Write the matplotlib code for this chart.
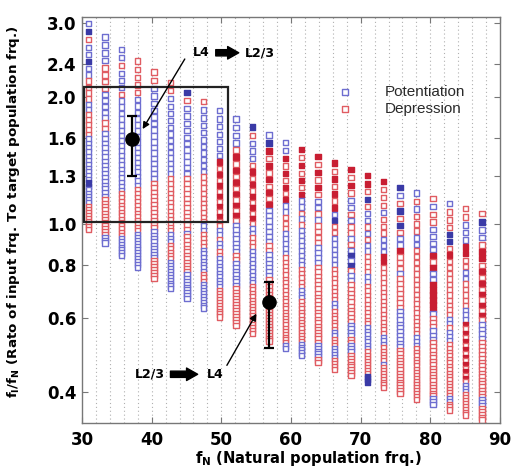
import numpy as np
import matplotlib
matplotlib.use('Agg')
import matplotlib.pyplot as plt
from matplotlib.patches import Rectangle, FancyArrowPatch

plt.rcParams['mathtext.fontset'] = 'dejavusans'

# natural population frequencies (columns), Hz
f_N = [30.94, 33.29, 35.65, 38.00, 40.36, 42.71, 45.06, 47.42, 49.77, 52.13,
       54.48, 56.83, 59.19, 61.54, 63.90, 66.25, 68.60, 70.96, 73.31, 75.67,
       78.02, 80.37, 82.73, 85.08, 87.44]

# input periods tested (ms)
period_ms = [10.8, 11.3, 11.8, 12.3, 12.8, 13.3, 13.8, 14.3, 14.8, 15.3,
             15.8, 16.3, 16.8, 17.3, 17.8, 18.3, 18.8, 19.3, 19.8, 20.3,
             20.8, 21.3, 21.8, 22.3, 22.8, 23.3, 23.8, 24.3, 24.8, 25.3,
             25.8, 26.3, 26.8, 27.3, 27.8, 28.3, 28.8, 29.3, 29.8, 30.3,
             30.8, 31.3, 31.8, 32.3, 32.8, 33.3]

# outcome per column, top to bottom: (code, lower ratio bound)
# p = potentiation, P = strong potentiation, d = depression, D = strong depression
outcomes = [
    [('p', 2.9), ('P', 2.84), ('d', 2.70), ('p', 2.45), ('P', 2.40), ('p', 2.25), ('d', 1.97),
     ('p', 1.83), ('d', 1.60), ('p', 1.27), ('P', 1.22), ('p', 1.12), ('d', 0)],
    [('p', 2.40), ('d', 2.10), ('p', 1.78), ('d', 1.68), ('p', 1.16), ('d', 0.94), ('p', 0)],
    [('p', 2.45), ('d', 2.30), ('p', 2.05), ('d', 1.97), ('p', 1.20), ('d', 0.93), ('p', 0)],
    [('d', 2.0), ('p', 1.22), ('d', 0.95), ('p', 0)],
    [('d', 2.17), ('p', 1.26), ('d', 0.97), ('p', 0.83), ('d', 0)],
    [('d', 2.05), ('p', 1.28), ('d', 0.95), ('p', 0.90), ('d', 0.82), ('p', 0)],
    [('P', 2.03), ('d', 1.93), ('p', 1.32), ('d', 0.97), ('p', 0.94), ('d', 0.77), ('p', 0)],
    [('d', 1.93), ('p', 1.32), ('d', 1.0), ('p', 0.95), ('d', 0.87), ('p', 0.76), ('d', 0.72), ('p', 0)],
    [('p', 1.45), ('Dd', 1.03), ('d', 0.98), ('p', 0.94), ('d', 0.91), ('p', 0.87), ('d', 0.84),
     ('p', 0.70), ('d', 0)],
    [('p', 1.55), ('dD', 1.0), ('p', 0.86), ('d', 0.81), ('p', 0.71), ('d', 0)],
    [('P', 1.69), ('d', 1.62), ('p', 1.48), ('d', 1.44), ('p', 1.40), ('dD', 0.99), ('p', 0.93),
     ('d', 0.88), ('p', 0.72), ('d', 0)],
    [('p', 1.60), ('P', 1.55), ('Dd', 1.09), ('p', 0.90), ('d', 0.86), ('p', 0.74), ('d', 0)],
    [('p', 1.48), ('Dd', 1.12), ('p', 1.06), ('d', 0.97), ('p', 0.85), ('d', 0.52), ('p', 0)],
    [('Dd', 1.15), ('p', 1.07), ('d', 1.04), ('p', 1.01), ('d', 0.97), ('p', 0.80), ('d', 0.70),
     ('p', 0.66), ('d', 0.52), ('p', 0)],
    [('Dd', 1.14), ('p', 1.06), ('d', 1.03), ('p', 1.0), ('d', 0.90), ('p', 0.80), ('d', 0.52),
     ('p', 0.48), ('d', 0)],
    [('Dd', 1.09), ('p', 1.02), ('P', 1.0), ('d', 0.95), ('p', 0.80), ('P', 0.79), ('d', 0.65),
     ('p', 0.63), ('d', 0.56), ('p', 0.54), ('d', 0.51), ('p', 0.48), ('d', 0)],
    [('Dd', 1.17), ('p', 1.08), ('d', 1.04), ('p', 1.01), ('d', 0.94), ('p', 0.91), ('d', 0.88),
     ('pP', 0.79), ('d', 0.76), ('p', 0.73), ('d', 0.58), ('p', 0.54), ('d', 0.52), ('p', 0.49), ('d', 0)],
    [('D', 1.22), ('d', 1.18), ('P', 1.13), ('d', 1.08), ('p', 1.01), ('d', 0.97), ('p', 0.94),
     ('d', 0.9), ('p', 0.84), ('d', 0.75), ('p', 0.72), ('d', 0.57), ('p', 0.5), ('d', 0.44), ('P', 0)],
    [('D', 1.25), ('d', 1.09), ('p', 1.05), ('d', 0.94), ('p', 0.84), ('D', 0.79), ('d', 0.55),
     ('p', 0.51), ('d', 0.47), ('p', 0.46), ('d', 0)],
    [('P', 1.2), ('p', 1.15), ('d', 1.10), ('P', 1.06), ('d', 1.02), ('P', 0.98), ('d', 0.94),
     ('p', 0.88), ('D', 0.84), ('d', 0.78), ('p', 0.76), ('d', 0.63), ('p', 0.51), ('d', 0)],
    [('p', 1.16), ('d', 1.12), ('p', 1.08), ('d', 0.93), ('p', 0.88), ('d', 0.55), ('p', 0.51), ('d', 0)],
    [('d', 1.13), ('p', 1.08), ('d', 1.0), ('p', 0.87), ('Dd', 0.77), ('p', 0.74), ('D', 0.62),
     ('p', 0.6), ('d', 0.57), ('p', 0.53), ('d', 0.39), ('p', 0)],
    [('p', 1.10), ('d', 1.02), ('p', 0.99), ('d', 0.95), ('P', 0.88), ('d', 0.85), ('D', 0.82),
     ('d', 0.61), ('p', 0.57), ('d', 0.56), ('p', 0.53), ('d', 0.39), ('p', 0.375), ('d', 0)],
    [('d', 1.03), ('P', 1.0), ('p', 0.89), ('D', 0.85), ('d', 0.77), ('p', 0.73), ('d', 0.64),
     ('p', 0.59), ('Dd', 0.42), ('p', 0.40), ('d', 0)],
    [('d', 1.04), ('P', 1.0), ('p', 0.92), ('d', 0.87), ('D', 0.85), ('Dd', 0.58), ('p', 0.53),
     ('d', 0.39), ('p', 0.37), ('d', 0)],
]

# error bars (mean ratio, lower/upper deviation)
eb_x = [37.2, 56.8]
eb_y = [1.59, 0.654]
eb_lo = [0.29, 0.144]
eb_hi = [0.22, 0.074]

x_ticks = [30, 40, 50, 60, 70, 80, 90]
y_ticks = [0.4, 0.6, 0.8, 1.0, 1.3, 1.6, 2.0, 2.4, 3.0]

style = {
    'p': ('white', '#6e6ed0'),
    'P': ('#3a3aa6', '#3a3aa6'),
    'd': ('white', '#e05c62'),
    'D': ('#c81e32', '#c81e32'),
}

W, H = 516, 473
fig = plt.figure(figsize=(W / 100, H / 100), dpi=100)
ax = fig.add_axes([82 / W, 1 - 423 / H, 418 / W, 406 / H])
ax.set_yscale('log')
ax.set_xlim(30, 90)
ax.set_ylim(0.338, 3.1)

# dotted vertical grid
for gx in range(32, 90, 2):
    ax.axvline(gx, color='#b0b0b0', lw=0.8, ls=(0, (1, 2.5)), zorder=0)

f_I = [1000.0 / t for t in period_ms]
xs, ys, fcs, ecs = [], [], [], []
for fn, segs in zip(f_N, outcomes):
    counters = [0] * len(segs)
    for fi in f_I:
        r = fi / fn
        for si, (code, low) in enumerate(segs):
            if r >= low:
                c = code[counters[si] % len(code)]
                counters[si] += 1
                break
        fc, ec = style[c]
        xs.append(fn); ys.append(r); fcs.append(fc); ecs.append(ec)
ax.scatter(xs, ys, s=15, marker='s', facecolors=fcs, edgecolors=ecs, linewidths=1.0, zorder=2)

# box
ax.add_patch(Rectangle((30.3, 1.015), 20.6, 2.11 - 1.015, fill=False, ec='#222222', lw=1.6, zorder=3))

# error bars
for x, y, lo, hi in zip(eb_x, eb_y, eb_lo, eb_hi):
    ax.errorbar([x], [y], yerr=[[lo], [hi]], fmt='o', color='black', ms=9.5,
                elinewidth=1.6, capsize=3.4, capthick=1.6, zorder=5)

# thin arrows
ax.annotate('', xy=(38.5, 1.66), xytext=(44.96, 2.497),
            arrowprops=dict(arrowstyle='-|>', color='black', lw=1.0, mutation_scale=10), zorder=6)
ax.annotate('', xy=(55.23, 0.622), xytext=(50.6, 0.457),
            arrowprops=dict(arrowstyle='-|>', color='black', lw=1.0, mutation_scale=10), zorder=6)

font_b = dict(family='DejaVu Sans', weight='bold')
ax.text(45.9, 2.55, 'L4', fontsize=9, va='center', ha='left', **font_b, zorder=6)
ax.text(53.4, 2.55, 'L2/3', fontsize=9, va='center', ha='left', **font_b, zorder=6)
ax.text(37.6, 0.441, 'L2/3', fontsize=9, va='center', ha='left', **font_b, zorder=6)
ax.text(47.9, 0.441, 'L4', fontsize=9, va='center', ha='left', **font_b, zorder=6)
for (x0, x1, y) in [(48.8, 52.9, 2.55), (42.3, 47.0, 0.441)]:
    ax.add_patch(FancyArrowPatch((x0, y), (x1, y), arrowstyle='simple,head_width=0.9,head_length=0.8,tail_width=0.45',
                                 mutation_scale=10, color='black', zorder=6))

# legend
lf = dict(family='Liberation Sans', fontsize=11, color='#2a2a2a')
for yy, key, lab in [(0.815, 'p', 'Potentiation'), (0.773, 'd', 'Depression')]:
    ax.scatter([0.630], [yy], s=18, marker='s', facecolors='white', edgecolors=style[key][1],
               linewidths=1.0, transform=ax.transAxes, zorder=6)
    ax.text(0.725, yy, lab, transform=ax.transAxes, va='center', ha='left', **lf)

ax.set_xticks(x_ticks)
ax.set_xticklabels([str(v) for v in x_ticks])
ax.set_yticks(y_ticks)
ax.set_yticklabels(['%.1f' % v for v in y_ticks])
ax.yaxis.set_minor_locator(matplotlib.ticker.NullLocator())
ax.tick_params(direction='in', length=4, width=0.8, color='#777777', top=True, right=True,
               labelsize=12)
ax.tick_params(axis='y', pad=4)
ax.tick_params(axis='x', pad=6)
for lab in ax.get_xticklabels() + ax.get_yticklabels():
    lab.set_fontfamily('DejaVu Sans')
    lab.set_fontweight('bold')
for sp in ax.spines.values():
    sp.set_color('#777777')
    sp.set_linewidth(1.0)

ax.set_xlabel(r'f$_\mathbf{N}$ (Natural population frq.)', fontsize=10.6, fontfamily='DejaVu Sans',
              fontweight='bold')
ax.xaxis.set_label_coords(0.541, -0.064)
ax.set_ylabel(r'f$_\mathbf{I}$/f$_\mathbf{N}$ (Rato of input frq. To target population frq.)', fontsize=9.7,
              fontfamily='DejaVu Sans', fontweight='bold')
ax.yaxis.set_label_coords(-0.143, 0.521)

fig.savefig('out.png', dpi=100)
